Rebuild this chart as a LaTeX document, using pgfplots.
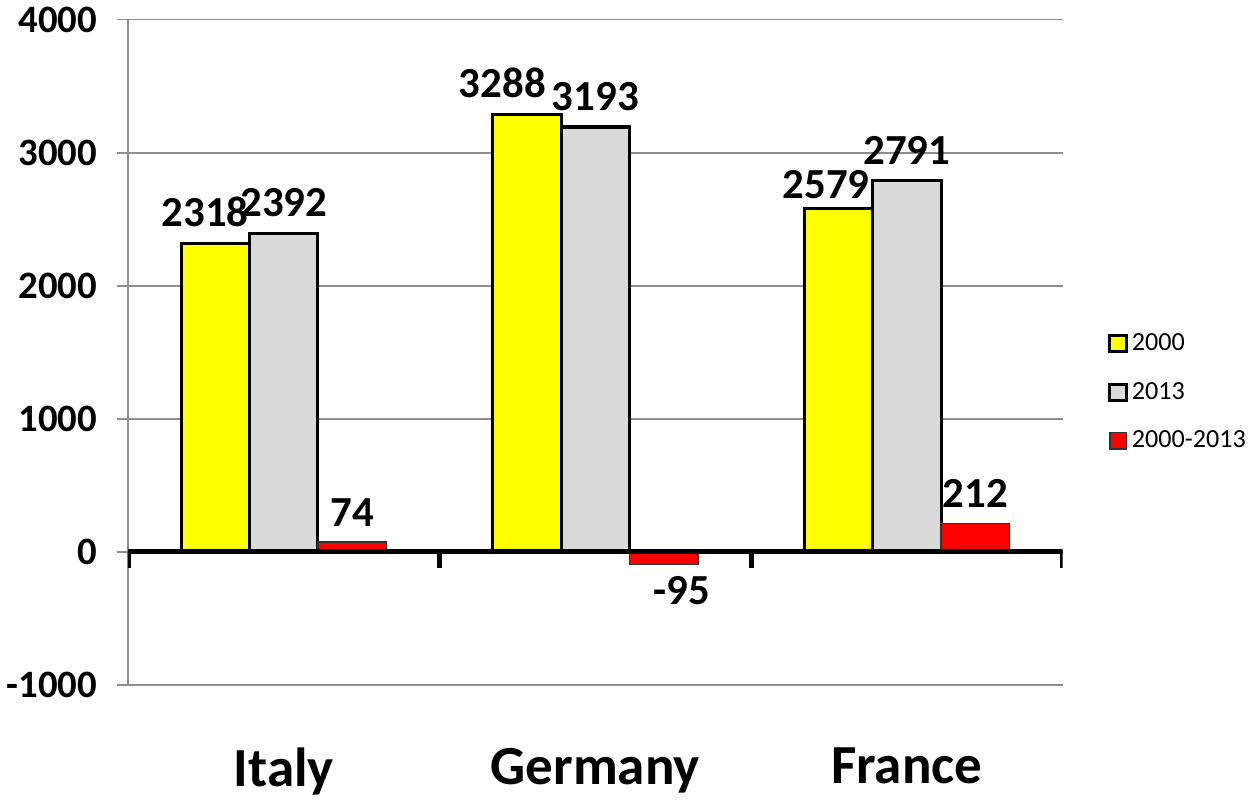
\documentclass[border=0pt]{standalone}
\usepackage{pgfplots}
\pgfplotsset{compat=1.18}
\usepackage{fontspec}
\setmainfont{Carlito}

\definecolor{barY}{HTML}{FFFF00}
\definecolor{barG}{HTML}{D9D9D9}
\definecolor{barR}{HTML}{FF0000}
\definecolor{gridc}{HTML}{8E8E8E}

\begin{document}
\begin{tikzpicture}
\begin{axis}[
    scale only axis,
    width=458pt, height=326pt,
    xmin=0, xmax=3,
    ymin=-1000, ymax=4000,
    ytick={-1000,0,1000,2000,3000,4000},
    xtick={0.5,1.5,2.5},
    xticklabels={Italy,Germany,France},
    axis lines*=left,
    x axis line style={draw=none},
    y axis line style={draw=gridc, line width=0.8pt},
    ymajorgrids,
    grid style={gridc, line width=0.8pt},
    major x tick style={draw=none},
    major y tick style={draw=gridc, line width=0.8pt},
    tick align=outside,
    major tick length=5.5pt,
    /pgf/number format/assume math mode=true,
    /pgf/number format/1000 sep={},
    yticklabel style={font=\fontsize{19}{19}\selectfont\bfseries, xshift=-6pt},
    xticklabel style={font=\fontsize{27}{27}\selectfont\bfseries, yshift=-22pt},
    ybar, bar width=33.5pt,
    nodes near coords,
    nodes near coords style={font=\fontsize{21}{21}\selectfont\bfseries, yshift=4pt},
    legend style={at={(1.042,0.44)}, anchor=west, draw=none, fill=none,
        font=\fontsize{12.8}{12.8}\selectfont, row sep=10pt},
    legend cell align=left,
    legend image code/.code={\draw[#1] (0pt,-4pt) rectangle (8pt,4pt);},
]
\addplot[bar shift=-33.5pt, fill=barY, draw=black, line width=1.5pt,
    coordinate style/.condition={\coordindex==0}{xshift=-5pt},
    coordinate style/.condition={\coordindex==1}{xshift=-12pt},
    coordinate style/.condition={\coordindex==2}{xshift=-6pt, yshift=-3pt}]
    coordinates {(0.5,2318) (1.5,3288) (2.5,2579)};
\addplot[bar shift=0pt, fill=barG, draw=black, line width=1.5pt]
    coordinates {(0.5,2392) (1.5,3193) (2.5,2791)};
\addplot[bar shift=33.5pt, fill=barR, draw=black!80, line width=0.7pt,
    coordinate style/.condition={\coordindex==1}{xshift=9pt, yshift=-6pt}]
    coordinates {(0.5,74) (1.5,-95) (2.5,212)};
\legend{2000,2013,2000-2013}
\draw[line width=2.5pt, line cap=rect] (axis cs:0,0) -- (axis cs:3,0);
\draw[line width=2.5pt] (axis cs:0,0) -- ++(0pt,-8pt);
\draw[line width=2.5pt] (axis cs:1,0) -- ++(0pt,-8pt);
\draw[line width=2.5pt] (axis cs:2,0) -- ++(0pt,-8pt);
\draw[line width=2.5pt] (axis cs:3,0) -- ++(0pt,-8pt);
\end{axis}
\end{tikzpicture}
\end{document}
